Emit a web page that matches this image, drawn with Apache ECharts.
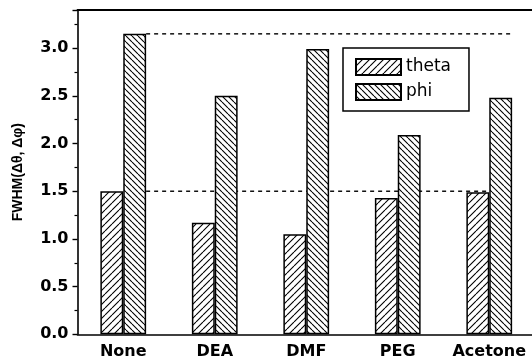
<!DOCTYPE html>
<html>
<head>
<meta charset="utf-8">
<script src="https://cdn.jsdelivr.net/npm/echarts@6/dist/echarts.min.js"></script>
<style>
  html, body { margin: 0; padding: 0; background: #fff; }
  #chart { width: 532px; height: 362px; }
</style>
</head>
<body>
<div id="chart"></div>
<script>
// Solvent treatments and FWHM widths of the two angular distributions
const categories = ['None', 'DEA', 'DMF', 'PEG', 'Acetone'];
const thetaValues = [1.50, 1.17, 1.05, 1.43, 1.49];
const phiValues = [3.15, 2.50, 2.99, 2.09, 2.48];
const yTicks = [0, 0.5, 1.0, 1.5, 2.0, 2.5, 3.0];

// Diagonal hatch pattern tile; dir = 1 draws "/" lines, dir = -1 draws "\" lines
function hatch(dir, period) {
  const c = document.createElement('canvas');
  c.width = period; c.height = period;
  const g = c.getContext('2d');
  g.fillStyle = '#fff';
  g.fillRect(0, 0, period, period);
  g.strokeStyle = '#000';
  g.lineWidth = 1.1;
  g.beginPath();
  for (let k = -1; k <= 1; k++) {
    if (dir > 0) {
      g.moveTo(k * period, period); g.lineTo(k * period + period, 0);
    } else {
      g.moveTo(k * period, 0); g.lineTo(k * period + period, period);
    }
  }
  g.stroke();
  return c;
}

const labelFont = { fontFamily: 'DejaVu Sans', fontWeight: 'bold', fontSize: 16, color: '#000' };
const barWidthFrac = 0.25; // each bar spans a quarter of a category band

// Dashed reference levels taken from the untreated sample, spanning
// from the right edge of the first phi bar to the right edge of the last one
const refLevels = [phiValues[0], thetaValues[0]];
const refStart = 0.5 + barWidthFrac;
const refEnd = categories.length - 0.5 + barWidthFrac;

const chart = echarts.init(document.getElementById('chart'));
chart.setOption({
  animation: false,
  backgroundColor: '#fff',
  grid: { left: 77.5, top: 10, width: 457.5, bottom: 27.7, outerBoundsMode: 'none', containLabel: false },
  legend: {
    left: 343, top: 48,
    orient: 'vertical',
    icon: 'rect',
    itemWidth: 45, itemHeight: 16, itemGap: 7,
    padding: [10, 18, 10, 12],
    borderColor: '#000', borderWidth: 1.5,
    textStyle: { fontFamily: 'DejaVu Sans', fontSize: 17, color: '#000' },
    data: ['theta', 'phi']
  },
  // the frame is open on the right: keep the plot's right edge clear
  graphic: [{
    type: 'rect', right: 0, top: 12, z: 100, silent: true,
    shape: { width: 6, height: 320 },
    style: { fill: '#fff' }
  }],
  xAxis: [{
    type: 'category',
    data: categories,
    axisLine: { onZero: false, lineStyle: { color: '#000', width: 1.6 } },
    axisTick: { alignWithLabel: true, length: 5, lineStyle: { color: '#000', width: 1.4 } },
    axisLabel: Object.assign({ margin: 10, interval: 0, hideOverlap: false }, labelFont)
  }, {
    // numeric span along the categories: top frame line and reference lines
    type: 'value', position: 'top',
    min: 0, max: categories.length,
    axisLine: { show: true, onZero: false, lineStyle: { color: '#000', width: 1.8 } },
    axisTick: { show: false },
    axisLabel: { show: false },
    splitLine: { show: false }
  }],
  yAxis: {
    type: 'value',
    min: 0, max: 3.4, interval: 0.5,
    name: 'FWHM(Δθ, Δφ)',
    nameLocation: 'middle',
    nameGap: 52,
    nameTextStyle: { fontFamily: 'Liberation Sans', fontWeight: 'bold', fontSize: 14, color: '#000' },
    axisLine: { show: true, onZero: false, lineStyle: { color: '#000', width: 1.6 } },
    axisTick: { show: true, length: 5, lineStyle: { color: '#000', width: 1.4 } },
    minorTick: { show: true, splitNumber: 2, length: 3, lineStyle: { color: '#000', width: 1.2 } },
    splitLine: { show: false },
    axisLabel: Object.assign({
      margin: 9,
      formatter: v => yTicks.indexOf(v) >= 0 ? v.toFixed(1) : ''
    }, labelFont)
  },
  series: [
    ...refLevels.map(level => ({
      type: 'line',
      xAxisIndex: 1,
      z: 1,
      silent: true,
      symbol: 'none',
      data: [[refStart, level], [refEnd, level]],
      lineStyle: { color: '#000', width: 1.4, type: [4, 4] }
    })),
    {
      name: 'theta', type: 'bar', z: 3,
      barWidth: '25%', barGap: '0%',
      data: thetaValues,
      itemStyle: { color: { image: hatch(1, 7), repeat: 'repeat' }, borderColor: '#000', borderWidth: 1.5 }
    },
    {
      name: 'phi', type: 'bar', z: 3,
      barWidth: '25%', barGap: '0%',
      data: phiValues,
      itemStyle: { color: { image: hatch(-1, 6), repeat: 'repeat' }, borderColor: '#000', borderWidth: 1.5 }
    }
  ]
});
</script>
</body>
</html>
